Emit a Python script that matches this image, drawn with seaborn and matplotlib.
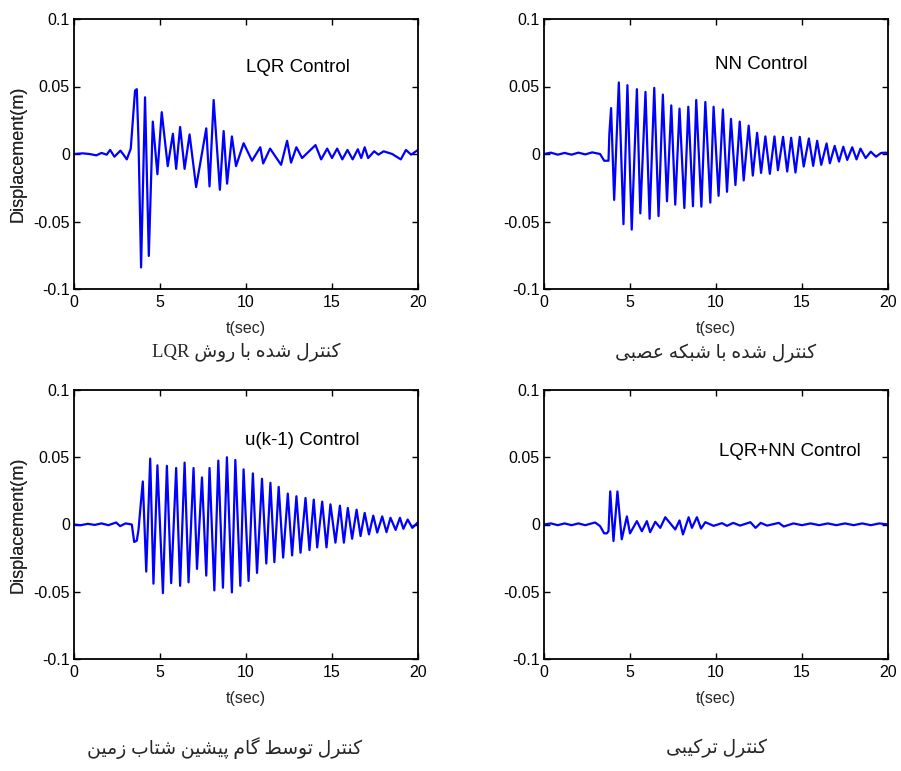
import matplotlib
matplotlib.use('Agg')
import matplotlib.pyplot as plt
import seaborn as sns
import pandas as pd

# --- data (peaks / troughs of each response) ---
t_lqr = [0, 0.5, 0.9, 1.3, 1.6, 1.9, 2.1, 2.35, 2.7, 2.85, 3.07, 3.3, 3.45, 3.55, 3.65, 3.75,
         3.9, 4.13, 4.35, 4.58, 4.85, 5.1, 5.45, 5.75, 5.94, 6.17, 6.43, 6.72, 7.1, 7.69, 7.88,
         8.12, 8.48, 8.7, 8.9, 9.18, 9.42, 9.86, 10.35, 10.83, 11.0, 11.4, 12.04, 12.39, 12.62,
         12.93, 13.26, 14.04, 14.37, 14.72, 15.0, 15.3, 15.6, 15.9, 16.2, 16.5, 16.7, 16.9, 17.1,
         17.45, 17.7, 18.0, 18.5, 19.0, 19.3, 19.6, 20.0]
y_lqr = [0, 0.0005, 0.0, -0.001, 0.0008, -0.0005, 0.003, -0.002, 0.0025, 0.0, -0.004, 0.004,
         0.03, 0.047, 0.048, 0.01, -0.084, 0.042, -0.0755, 0.024, -0.015, 0.031, -0.009, 0.015,
         -0.011, 0.02, -0.011, 0.0145, -0.0245, 0.019, -0.024, 0.040, -0.0265, 0.017, -0.022,
         0.013, -0.009, 0.008, -0.005, 0.005, -0.007, 0.004, -0.008, 0.0098, -0.0064, 0.005,
         -0.003, 0.0066, -0.004, 0.004, -0.003, 0.004, -0.004, 0.003, -0.004, 0.0035, -0.003,
         0.005, -0.003, 0.002, -0.0005, 0.002, 0.0, -0.004, 0.003, -0.0005, 0.003]

t_nn = [0, 0.4, 0.8, 1.2, 1.6, 2.0, 2.4, 2.8, 3.26, 3.5, 3.75, 3.8, 3.9, 4.08, 4.35, 4.62, 4.85,
        5.1, 5.4, 5.6, 5.9, 6.14, 6.41, 6.66, 6.91, 7.15, 7.4, 7.63, 7.88, 8.16, 8.39, 8.66,
        8.85, 9.15, 9.38, 9.67, 9.86, 10.15, 10.4, 10.64, 10.87, 11.13, 11.38, 11.61, 11.9,
        12.14, 12.39, 12.62, 12.87, 13.13, 13.4, 13.6, 13.9, 14.14, 14.37, 14.62, 14.87, 15.1,
        15.4, 15.65, 15.88, 16.12, 16.43, 16.62, 16.9, 17.15, 17.4, 17.63, 17.92, 18.17, 18.4,
        18.7, 19.0, 19.3, 19.6, 19.9, 20.0]
y_nn = [0, 0.001, -0.0005, 0.0008, -0.0005, 0.001, -0.0003, 0.0012, 0, -0.005, -0.005, 0.015,
        0.034, -0.034, 0.053, -0.052, 0.051, -0.056, 0.048, -0.044, 0.046, -0.048, 0.049,
        -0.046, 0.044, -0.035, 0.036, -0.0375, 0.0336, -0.040, 0.035, -0.0387, 0.040, -0.039,
        0.0385, -0.036, 0.035, -0.031, 0.033, -0.028, 0.026, -0.023, 0.024, -0.0196, 0.021,
        -0.016, 0.0157, -0.014, 0.013, -0.0147, 0.013, -0.012, 0.0127, -0.013, 0.012, -0.0137,
        0.0127, -0.0093, 0.0115, -0.0088, 0.0098, -0.008, 0.0078, -0.0069, 0.006, -0.0056,
        0.0054, -0.0044, 0.005, -0.004, 0.004, -0.003, 0.0017, -0.002, 0.0008, 0.001, 0.0]

t_uk = [0, 0.4, 0.8, 1.2, 1.6, 2.0, 2.45, 2.68, 3.0, 3.36, 3.5, 3.65, 3.75, 3.88, 4.0, 4.2,
        4.43, 4.62, 4.85, 5.17, 5.4, 5.65, 5.94, 6.17, 6.43, 6.66, 6.95, 7.15, 7.44, 7.69, 7.88,
        8.16, 8.39, 8.66, 8.89, 9.18, 9.38, 9.67, 9.86, 10.15, 10.4, 10.64, 10.93, 11.18, 11.42,
        11.65, 11.9, 12.16, 12.43, 12.68, 12.93, 13.17, 13.46, 13.69, 13.94, 14.14, 14.43,
        14.68, 14.91, 15.2, 15.46, 15.69, 15.92, 16.17, 16.43, 16.66, 16.9, 17.15, 17.4, 17.63,
        17.92, 18.17, 18.4, 18.7, 18.95, 19.15, 19.4, 19.67, 20.0]
y_uk = [0, -0.0005, 0.0005, -0.0003, 0.0008, -0.0005, 0.0015, -0.0012, 0.0008, 0, -0.013,
        -0.012, -0.004, 0.015, 0.032, -0.035, 0.049, -0.044, 0.044, -0.051, 0.0436, -0.0436,
        0.042, -0.0456, 0.046, -0.043, 0.042, -0.033, 0.035, -0.038, 0.042, -0.049, 0.0475,
        -0.047, 0.050, -0.0505, 0.048, -0.0456, 0.041, -0.042, 0.038, -0.036, 0.034, -0.029,
        0.031, -0.028, 0.028, -0.0246, 0.023, -0.023, 0.021, -0.021, 0.0197, -0.019, 0.0185,
        -0.017, 0.017, -0.017, 0.015, -0.0135, 0.014, -0.0135, 0.0123, -0.0106, 0.011, -0.0086,
        0.0086, -0.0074, 0.0066, -0.006, 0.006, -0.0057, 0.005, -0.004, 0.005, -0.0032, 0.0037,
        -0.0025, 0.0017]

t_mix = [0, 0.4, 0.8, 1.2, 1.6, 2.0, 2.4, 2.97, 3.26, 3.5, 3.65, 3.75, 3.85, 4.04, 4.27, 4.52,
         4.82, 5.0, 5.4, 5.69, 5.98, 6.17, 6.47, 6.76, 7.05, 7.63, 7.88, 8.08, 8.41, 8.6, 8.89,
         9.13, 9.38, 9.86, 10.35, 10.64, 11.0, 11.4, 12.0, 12.3, 12.6, 12.97, 13.65, 13.94, 14.5,
         15.0, 15.5, 16.0, 16.5, 17.0, 17.5, 18.0, 18.5, 19.0, 19.5, 20.0]
y_mix = [0, 0.0008, -0.0005, 0.0008, -0.0005, 0.0008, -0.0005, 0.0015, -0.0012, -0.0066,
         -0.0066, -0.005, 0.0246, -0.0123, 0.0246, -0.011, 0.006, -0.0066, 0.0025, -0.005,
         0.0025, -0.0057, 0.002, -0.0025, 0.0054, -0.0037, 0.003, -0.0074, 0.0054, -0.0025,
         0.0054, -0.003, 0.0017, -0.001, 0.001, -0.001, 0.0012, -0.0008, 0.0017, -0.0025, 0.0012,
         -0.0008, 0.0012, -0.0015, 0.0008, -0.0005, 0.0008, -0.0005, 0.0008, -0.0005, 0.0008,
         -0.0005, 0.0008, -0.0005, 0.0008, 0.0]

titles = ['LQR Control', 'NN Control', 'u(k-1) Control', 'LQR+NN Control']
x_ticks = [0, 5, 10, 15, 20]
y_ticks = [-0.1, -0.05, 0, 0.05, 0.1]
y_tick_labels = ['-0.1', '-0.05', '0', '0.05', '0.1']

# Persian captions (logical order)
cap_fa = ['کنترل شده با روش', 'کنترل شده با شبکه عصبی',
          'کنترل توسط گام پیشین شتاب زمین', 'کنترل ترکیبی']

# --- minimal Persian shaping (matplotlib has no joining / RTL) ---
FORMS = {
    'ا': ('\uFE8D', '\uFE8E', None, None),
    'ب': ('\uFE8F', '\uFE90', '\uFE91', '\uFE92'),
    'پ': ('\uFB56', '\uFB57', '\uFB58', '\uFB59'),
    'ت': ('\uFE95', '\uFE96', '\uFE97', '\uFE98'),
    'د': ('\uFEA9', '\uFEAA', None, None),
    'ر': ('\uFEAD', '\uFEAE', None, None),
    'ز': ('\uFEAF', '\uFEB0', None, None),
    'س': ('\uFEB1', '\uFEB2', '\uFEB3', '\uFEB4'),
    'ش': ('\uFEB5', '\uFEB6', '\uFEB7', '\uFEB8'),
    'ص': ('\uFEB9', '\uFEBA', '\uFEBB', '\uFEBC'),
    'ط': ('\uFEC1', '\uFEC2', '\uFEC3', '\uFEC4'),
    'ع': ('\uFEC9', '\uFECA', '\uFECB', '\uFECC'),
    '\u06A9': ('\uFB8E', '\uFB8F', '\uFB90', '\uFB91'),
    'گ': ('\uFB92', '\uFB93', '\uFB94', '\uFB95'),
    'ل': ('\uFEDD', '\uFEDE', '\uFEDF', '\uFEE0'),
    'م': ('\uFEE1', '\uFEE2', '\uFEE3', '\uFEE4'),
    'ن': ('\uFEE5', '\uFEE6', '\uFEE7', '\uFEE8'),
    'ه': ('\uFEE9', '\uFEEA', '\uFEEB', '\uFEEC'),
    'و': ('\uFEED', '\uFEEE', None, None),
    '\u06CC': ('\uFBFC', '\uFBFD', '\uFBFE', '\uFBFF'),
}


def shape_fa(text):
    text = text.replace('\u0643', '\u06A9').replace('\u064A', '\u06CC')
    out = []
    for i, ch in enumerate(text):
        if ch not in FORMS:
            out.append(ch)
            continue
        prev = text[i - 1] if i > 0 else ''
        nxt = text[i + 1] if i + 1 < len(text) else ''
        jp = prev in FORMS and FORMS[prev][2] is not None
        jn = FORMS[ch][2] is not None and nxt in FORMS
        f = FORMS[ch]
        out.append(f[3] if jp and jn else f[1] if jp else f[2] if jn else f[0])
    return ''.join(reversed(out))


captions = ['LQR ' + shape_fa(cap_fa[0])] + [shape_fa(c) for c in cap_fa[1:]]

sns.set_theme(style='ticks')
plt.rcParams['font.family'] = ['Liberation Sans', 'DejaVu Sans']

fig = plt.figure(figsize=(9.01, 7.71), dpi=100)
W, H = 901.0, 771.0

# axes boxes in pixels: left, top, right, bottom
boxes = [(74, 19, 418, 289), (544, 19, 888, 289), (74, 390, 418, 659), (544, 390, 888, 659)]
series = [(t_lqr, y_lqr), (t_nn, y_nn), (t_uk, y_uk), (t_mix, y_mix)]
title_pos = [(10.0, 0.0640), (9.95, 0.0662), (9.95, 0.0626), (10.15, 0.0545)]
cap_pos = [(246, 352), (716, 353), (225, 748), (716, 748)]

for i in range(4):
    l, t, r, b = boxes[i]
    ax = fig.add_axes([l / W, 1 - b / H, (r - l) / W, (b - t) / H])
    df = pd.DataFrame({'t': series[i][0], 'y': series[i][1]})
    sns.lineplot(data=df, x='t', y='y', ax=ax, color='#0000ff', linewidth=1.6,
                 estimator=None, sort=False)
    ax.set_xlim(0, 20)
    ax.set_ylim(-0.1, 0.1)
    ax.set_xticks(x_ticks)
    ax.set_xticklabels([str(v) for v in x_ticks])
    ax.set_yticks(y_ticks)
    ax.set_yticklabels(y_tick_labels)
    ax.tick_params(direction='in', length=4.5, width=1, top=True, right=True,
                   labelsize=11.5, colors='black')
    ax.tick_params(axis='x', pad=4)
    ax.tick_params(axis='y', pad=3)
    for s in ax.spines.values():
        s.set_visible(True)
        s.set_color('black')
        s.set_linewidth(1.3)
    ax.set_xlabel('t(sec)', fontsize=11.5)
    ax.xaxis.set_label_coords(0.5, (b - (328 if i < 2 else 698)) / (b - t))
    ax.xaxis.label.set_va('center')
    ax.set_ylabel('Displacement(m)', fontsize=13)
    ax.yaxis.set_label_coords((18.5 - l) / (r - l), 0.5)
    ax.yaxis.label.set_va('center')
    ax.text(title_pos[i][0], title_pos[i][1], titles[i], fontsize=13.5,
            ha='left', va='center', color='black')
    fig.text(cap_pos[i][0] / W, 1 - cap_pos[i][1] / H, captions[i], fontsize=13.5,
             ha='center', va='center', family=['Liberation Serif', 'DejaVu Sans'])

fig.savefig('out.png', dpi=100, facecolor='white')
